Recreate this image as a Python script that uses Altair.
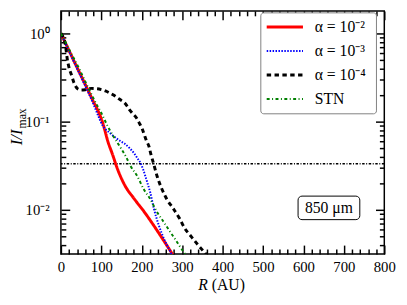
import altair as alt
import pandas as pd

# ---------------- data ----------------
r_red = [0, 20, 40, 60, 80, 92, 104, 116, 128, 140, 158, 182, 206, 230, 254, 274, 290]
i_red = [1.0, 0.64, 0.41, 0.265, 0.17, 0.132, 0.095, 0.060, 0.042, 0.029, 0.0190,
         0.0132, 0.0095, 0.0066, 0.0045, 0.00324, 0.0025]

r_blue = [0, 20, 40, 60, 80, 92, 104, 120, 133, 145, 157, 170, 181, 190, 197, 203,
          209, 215, 221, 230, 242, 254, 270, 285]
i_blue = [1.0, 0.63, 0.40, 0.255, 0.16, 0.117, 0.089, 0.075, 0.067, 0.061, 0.0565,
          0.05, 0.0437, 0.038, 0.0339, 0.029, 0.024, 0.0195, 0.0157, 0.0103, 0.0067,
          0.0048, 0.0034, 0.0025]

r_black = [0, 5, 10, 13, 15.5, 19.5, 26, 32, 42, 50, 60, 75, 90, 100, 110, 120, 130,
           140, 150, 157, 163, 169, 177, 187, 193, 201, 205, 212, 218, 222, 230, 238,
           250, 262, 278, 294, 306, 322, 339, 355, 368]
i_black = [1.0, 0.92, 0.79, 0.64, 0.52, 0.42, 0.34, 0.278, 0.234, 0.228, 0.230, 0.238,
           0.236, 0.231, 0.223, 0.212, 0.20, 0.186, 0.173, 0.164, 0.152, 0.138, 0.124,
           0.110, 0.098, 0.083, 0.074, 0.060, 0.052, 0.0437, 0.0325, 0.024, 0.0171,
           0.0132, 0.0103, 0.0079, 0.0062, 0.0050, 0.0040, 0.0033, 0.0028]

r_green = [0, 11, 25, 45, 64, 86, 100, 116, 130, 141, 161, 173, 189, 205, 221, 238,
           254, 270, 286, 302, 318]
i_green = [1.0, 0.80, 0.60, 0.40, 0.262, 0.164, 0.125, 0.088, 0.068, 0.0565, 0.040,
           0.031, 0.024, 0.0171, 0.0132, 0.0094, 0.0073, 0.00565, 0.0044, 0.0034, 0.0027]

series_names = ["α = 10⁻²", "α = 10⁻³", "α = 10⁻⁴", "STN"]
series_r = [r_red, r_blue, r_black, r_green]
series_i = [i_red, i_blue, i_black, i_green]

threshold = [1 / 30]

x_major = [float(v) for v in range(0, 801, 100)]
x_minor = [float(v) for v in range(0, 801, 20) if v % 100]
y_major = [1.0, 0.1, 0.01]
y_major_labels = ["10⁰", "10⁻¹", "10⁻²"]
y_minor = [round(m * 10.0 ** e, 6) for e in (-3, -2, -1) for m in range(2, 10)
           if m * 10.0 ** e > 0.0033]

wavelength_label = "850 μm"
x_title = ["R", "(AU)"]
y_title = ["I/I", "max"]

# ---------------- styles ----------------
series_colors = ["#ff0000", "#0000ff", "#000000", "#008000"]
series_dash = [[1, 0], [1.5, 1.5], [4.5, 3.5], [3, 2.5, 1, 2.5]]
series_width = [3, 2, 3, 2]

W, H = 330, 248
SERIF = "Liberation Serif"
xs = alt.Scale(domain=[0, 800], nice=False, zero=False)
ys = alt.Scale(type="log", domain=[0.00316, 1.8], nice=False)
MAJOR, MINOR = 9, 5


def one():
    return alt.Data(values=[{"k": 0}])


frames = []
for name, rr, ii in zip(series_names, series_r, series_i):
    frames.append(pd.DataFrame({"R": rr, "I": ii, "series": name}))
df_all = pd.concat(frames, ignore_index=True)

# y label expression
expr = f"'{y_major_labels[-1]}'"
for v, lab in reversed(list(zip(y_major[:-1], y_major_labels[:-1]))):
    expr = f"datum.value > {v * 0.5} ? '{lab}' : ({expr})"


def ax(orient, values, size, labels=False, **kw):
    # negative tick size (given as an expression) draws the ticks inward
    return alt.Axis(orient=orient, values=values, ticks=True,
                    tickSize={"expr": str(-size)}, tickColor="black", tickWidth=1.5,
                    labels=labels, domain=False, grid=False, title=None, **kw)


def axis_layer(xa, ya):
    return alt.Chart(df_all).mark_line(strokeOpacity=0).encode(
        x=alt.X("R:Q", scale=xs, axis=xa),
        y=alt.Y("I:Q", scale=ys, axis=ya),
        detail="series:N",
    )


layers = []
# bottom/left: major ticks with labels
layers.append(axis_layer(
    ax("bottom", x_major, MAJOR, labels=True, labelFont=SERIF, labelFontSize=15,
       labelColor="black", labelPadding=6 + MAJOR, labelFlush=False),
    ax("left", y_major, MAJOR, labels=True, labelFont=SERIF, labelFontSize=15,
       labelColor="black", labelPadding=12 + MAJOR, labelExpr=expr, labelFlush=False),
))
# bottom/left: minor ticks
layers.append(axis_layer(ax("bottom", x_minor, MINOR), ax("left", y_minor, MINOR)))
# top/right: major and minor ticks
layers.append(axis_layer(ax("top", x_major, MAJOR), ax("right", y_major, MAJOR)))
layers.append(axis_layer(ax("top", x_minor, MINOR), ax("right", y_minor, MINOR)))

# threshold line
layers.append(
    alt.Chart(alt.Data(values=[{"th": v} for v in threshold])).mark_rule(
        color="black", strokeWidth=1.5, strokeDash=[2.5, 1.6, 1, 1.6]
    ).encode(y=alt.Y("th:Q", scale=ys, axis=None))
)

# series
for name, col, dash, wid in zip(series_names, series_colors, series_dash, series_width):
    layers.append(
        alt.Chart(df_all[df_all.series == name]).mark_line(
            color=col, strokeDash=dash, strokeWidth=wid, clip=True,
            interpolate="monotone"
        ).encode(
            x=alt.X("R:Q", scale=xs, axis=None),
            y=alt.Y("I:Q", scale=ys, axis=None),
        )
    )

# legend box
layers.append(
    alt.Chart(one()).mark_rect(fill="white", stroke="#808080", strokeWidth=1,
                               cornerRadius=3).encode(
        x=alt.value(204), x2=alt.value(322), y=alt.value(2), y2=alt.value(105))
)
row_y = [16.5, 41, 65.5, 90]
for name, col, dash, wid, yy in zip(series_names, series_colors, series_dash,
                                    series_width, row_y):
    layers.append(
        alt.Chart(one()).mark_rule(color=col, strokeDash=dash, strokeWidth=wid).encode(
            x=alt.value(210), x2=alt.value(247), y=alt.value(yy))
    )
    layers.append(
        alt.Chart(one()).mark_text(font=SERIF, fontSize=16, align="left",
                                   baseline="middle", color="black").encode(
            x=alt.value(259), y=alt.value(yy), text=alt.value(name))
    )

# wavelength box
layers.append(
    alt.Chart(one()).mark_rect(fill="white", stroke="#000000", strokeWidth=1,
                               cornerRadius=4).encode(
        x=alt.value(242), x2=alt.value(305), y=alt.value(189), y2=alt.value(213))
)
layers.append(
    alt.Chart(one()).mark_text(font=SERIF, fontSize=16, align="center",
                               baseline="middle", color="black").encode(
        x=alt.value(273.5), y=alt.value(201.5), text=alt.value(wavelength_label))
)

# x title
layers.append(
    alt.Chart(one()).mark_text(font=SERIF, fontSize=16, fontStyle="italic",
                               align="right", baseline="alphabetic", color="black").encode(
        x=alt.value(150), y=alt.value(285), text=alt.value(x_title[0]))
)
layers.append(
    alt.Chart(one()).mark_text(font=SERIF, fontSize=16, align="left",
                               baseline="alphabetic", color="black", dx=4).encode(
        x=alt.value(150), y=alt.value(285), text=alt.value(x_title[1]))
)

# y title
layers.append(
    alt.Chart(one()).mark_text(font=SERIF, fontSize=17, fontStyle="italic", angle=270,
                               align="right", baseline="alphabetic", color="black").encode(
        x=alt.value(-40), y=alt.value(121), text=alt.value(y_title[0]))
)
layers.append(
    alt.Chart(one()).mark_text(font=SERIF, fontSize=12, angle=270, align="left",
                               baseline="alphabetic", color="black", dx=1, dy=4).encode(
        x=alt.value(-40), y=alt.value(121), text=alt.value(y_title[1]))
)

chart = alt.layer(*layers).resolve_axis(x="independent", y="independent").properties(
    width=W, height=H,
    autosize=alt.AutoSizeParams(type="none"),
    padding={"left": 54, "top": 0, "right": 15, "bottom": 42},
).configure_view(stroke="black", strokeWidth=1.5)

chart.save("out.html", embed_options={"renderer": "svg", "actions": False})
